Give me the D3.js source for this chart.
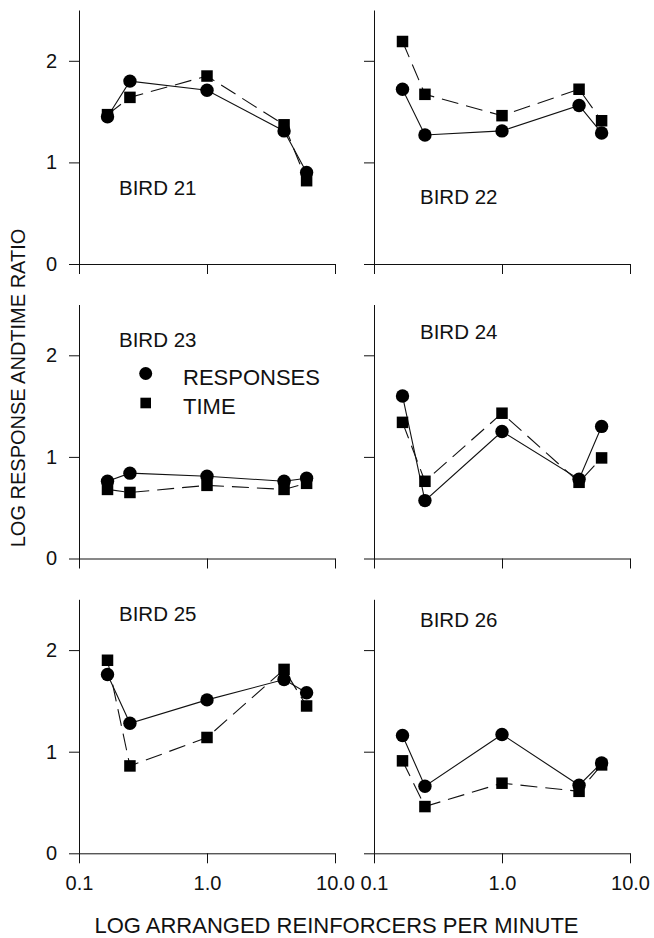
<!DOCTYPE html>
<html>
<head>
<meta charset="utf-8">
<script src="https://cdn.jsdelivr.net/npm/d3@7"></script>
<style>
  html, body { margin: 0; padding: 0; background: #fff; }
  svg { display: block; font-family: "Liberation Sans", Arial, Helvetica, sans-serif; }
</style>
</head>
<body>
<svg id="chart" width="654" height="938"></svg>
<script>
// Arranged reinforcer rates (per minute) shared by every bird
const rates = [0.167, 0.25, 1.0, 4.0, 6.0];

const birds = ["BIRD 21", "BIRD 22", "BIRD 23", "BIRD 24", "BIRD 25", "BIRD 26"];

// Log response ratios
const responses21 = [1.45, 1.80, 1.71, 1.31, 0.90];
const responses22 = [1.72, 1.27, 1.31, 1.56, 1.29];
const responses23 = [0.76, 0.84, 0.81, 0.76, 0.79];
const responses24 = [1.60, 0.57, 1.25, 0.78, 1.30];
const responses25 = [1.76, 1.28, 1.51, 1.71, 1.58];
const responses26 = [1.16, 0.66, 1.17, 0.67, 0.89];

// Log time ratios
const time21 = [1.47, 1.64, 1.85, 1.37, 0.82];
const time22 = [2.19, 1.67, 1.46, 1.72, 1.41];
const time23 = [0.68, 0.65, 0.72, 0.68, 0.74];
const time24 = [1.34, 0.76, 1.43, 0.75, 0.99];
const time25 = [1.90, 0.86, 1.14, 1.81, 1.45];
const time26 = [0.91, 0.46, 0.69, 0.61, 0.87];

const responseSeries = [responses21, responses22, responses23, responses24, responses25, responses26];
const timeSeries = [time21, time22, time23, time24, time25, time26];

const xTicks = [0.1, 1, 10];
const xTickLabels = ["0.1", "1.0", "10.0"];
const yTicks = [0, 1, 2];
const yTickLabels = ["0", "1", "2"];

const legendLabels = ["RESPONSES", "TIME"];
const xTitle = "LOG ARRANGED REINFORCERS PER MINUTE";
const yTitle = "LOG RESPONSE ANDTIME RATIO";

// ---- layout ----
const colLeft = [79, 374];
const panelW = 256;
const rowBase = [264, 558.5, 853.3];
const panelH = 254;
// bird label placement inside each panel: [dx from axis, baseline from panel top]
const labelPlace = [[40, 185], [46, 194], [40, 42], [46, 34], [40, 21.5], [46, 27.5]];

const svg = d3.select("#chart");
const ink = "#111";

birds.forEach((bird, i) => {
  const col = i % 2, row = Math.floor(i / 2);
  const x = d3.scaleLog().domain([0.1, 10]).range([colLeft[col], colLeft[col] + panelW]);
  const y = d3.scaleLinear().domain([0, 2.5]).range([rowBase[row], rowBase[row] - panelH]);
  const g = svg.append("g");

  // x axis
  const xa = g.append("g")
    .attr("transform", `translate(0,${rowBase[row]})`)
    .call(d3.axisBottom(x).tickValues(xTicks).tickSize(10).tickSizeOuter(0).tickPadding(12.5)
      .tickFormat((d, k) => row === 2 ? xTickLabels[k] : ""));
  // y axis
  const ya = g.append("g")
    .attr("transform", `translate(${colLeft[col]},0)`)
    .call(d3.axisLeft(y).tickValues(yTicks).tickSize(10).tickSizeOuter(0).tickPadding(12)
      .tickFormat((d, k) => col === 0 ? yTickLabels[k] : ""));
  [xa, ya].forEach(a => {
    a.attr("font-family", null).attr("font-size", 20);
    a.selectAll("path, line").attr("stroke", ink).attr("stroke-width", 1);
    a.selectAll("text").attr("fill", ink);
  });

  const resp = rates.map((r, k) => ({ r, v: responseSeries[i][k] }));
  const tm = rates.map((r, k) => ({ r, v: timeSeries[i][k] }));
  const line = d3.line().x(d => x(d.r)).y(d => y(d.v));

  g.append("path").datum(tm).attr("d", line)
    .attr("fill", "none").attr("stroke", ink).attr("stroke-width", 1.1)
    .attr("stroke-dasharray", "17,8");
  g.append("path").datum(resp).attr("d", line)
    .attr("fill", "none").attr("stroke", ink).attr("stroke-width", 1.1);

  const sq = 11.5;
  g.selectAll("rect.time").data(tm).join("rect").attr("class", "time")
    .attr("x", d => x(d.r) - sq / 2).attr("y", d => y(d.v) - sq / 2)
    .attr("width", sq).attr("height", sq).attr("fill", "#000");
  g.selectAll("circle.resp").data(resp).join("circle").attr("class", "resp")
    .attr("cx", d => x(d.r)).attr("cy", d => y(d.v)).attr("r", 6.7).attr("fill", "#000");

  const top = rowBase[row] - panelH;
  g.append("text")
    .attr("x", colLeft[col] + labelPlace[i][0])
    .attr("y", top + labelPlace[i][1])
    .attr("font-size", 20.5).attr("fill", ink)
    .text(bird);

  // legend sits in the BIRD 23 panel
  if (i === 2) {
    const lx = colLeft[col] + 66.7;
    g.append("circle").attr("cx", lx).attr("cy", top + 69).attr("r", 6.5).attr("fill", "#000");
    g.append("rect").attr("x", lx - 5.3).attr("y", top + 98.5 - 5.3)
      .attr("width", 10.6).attr("height", 10.6).attr("fill", "#000");
    g.append("text").attr("x", colLeft[col] + 104).attr("y", top + 80)
      .attr("font-size", 22).attr("fill", ink).text(legendLabels[0]);
    g.append("text").attr("x", colLeft[col] + 104).attr("y", top + 109)
      .attr("font-size", 22).attr("fill", ink).text(legendLabels[1]);
  }
});

// axis titles
svg.append("text")
  .attr("x", 336.5).attr("y", 933)
  .attr("text-anchor", "middle").attr("font-size", 22).attr("fill", ink)
  .text(xTitle);
svg.append("text")
  .attr("transform", "translate(25,388) rotate(-90)")
  .attr("text-anchor", "middle").attr("font-size", 20).attr("fill", ink)
  .text(yTitle);
</script>
</body>
</html>
